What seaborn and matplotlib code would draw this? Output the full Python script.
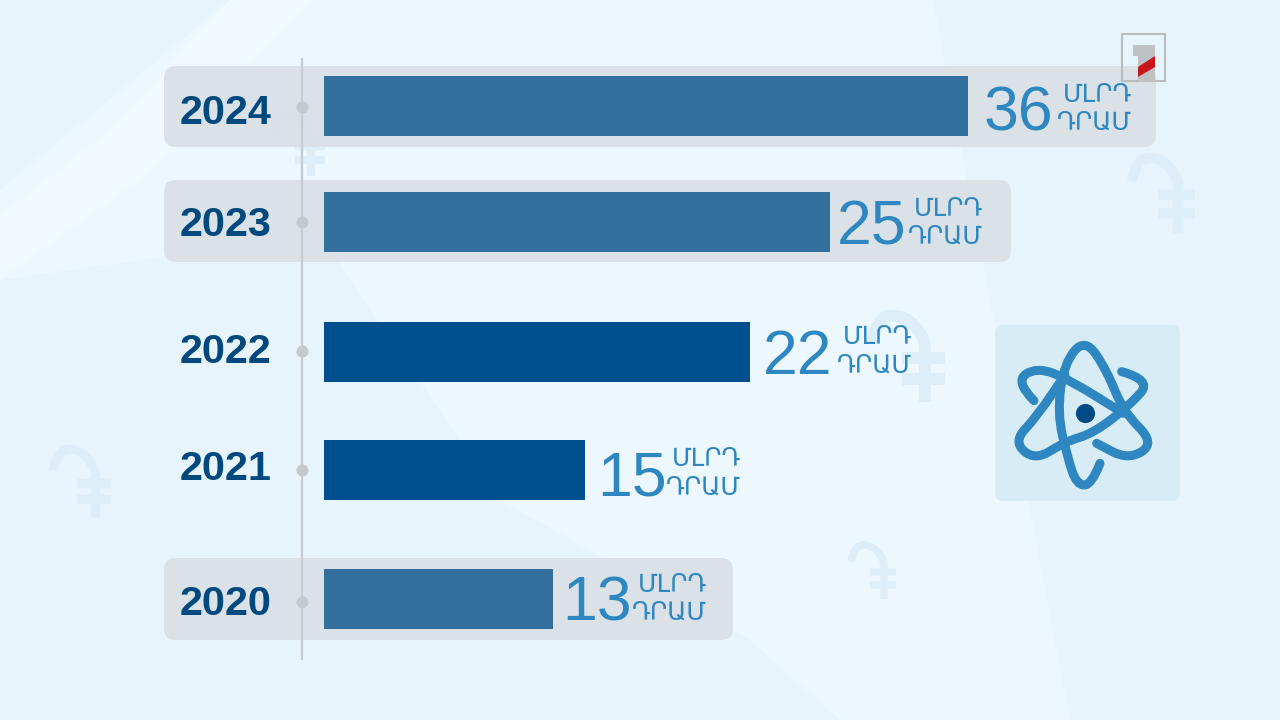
import numpy as np
import pandas as pd
import seaborn as sns
import matplotlib
matplotlib.use('Agg')
import matplotlib.pyplot as plt
from matplotlib.patches import FancyBboxPatch, PathPatch, Polygon, Rectangle
from matplotlib.path import Path

# ── DATA ───────────────────────────────────────────────────────
years = ['2024', '2023', '2022', '2021', '2020']
value_labels = ['36', '25', '22', '15', '13']
# bars in the source are not to scale with their labels, so lengths are read off the picture
bar_lengths = [36.0, 28.3, 23.8, 14.6, 12.8]
highlighted = [True, True, False, False, True]
unit_top = 'ՄԼՐԴ'
unit_bottom = 'ԴՐԱՄ'

# ── LAYOUT (pixels) ────────────────────────────────────────────
row_y = [106, 221.5, 352, 470, 599]
year_y = [113, 225, 352, 469, 604]
dot_y = [107, 222, 351, 470, 602]
value_x = [984, 837, 763, 597, 562]
value_y = [108, 222, 351, 473, 598]
unit_right = [1132, 983, 912, 741, 707]
panels = [(164, 66, 1156, 147), (164, 180, 1011, 262), (164, 558, 733, 640)]
BAR_LEFT = 323.5
PX_PER_UNIT = 644.5 / 36
NAVY = '#00497f'
BLUE = '#2e87c0'


def smooth(points, **kw):
    # quadratic spline through the midpoints of a hand-placed outline
    pts = np.array(points, dtype=float)
    verts, codes = [pts[0]], [Path.MOVETO]
    for a, b in zip(pts[1:-1], pts[2:]):
        verts += [a, (a + b) / 2]
        codes += [Path.CURVE3, Path.CURVE3]
    verts.append(pts[-1])
    codes.append(Path.LINETO)
    return PathPatch(Path(verts, codes), fc='none', **kw)


sns.set_theme(style='white')
plt.rcParams['font.family'] = ['Liberation Sans', 'DejaVu Sans']

fig = plt.figure(figsize=(12.8, 7.2), dpi=100, facecolor='#e8f4fc')

# ── BACKGROUND ─────────────────────────────────────────────────
bg = fig.add_axes([0, 0, 1, 1], facecolor='#e8f4fc')
bg.set_xlim(0, 1280)
bg.set_ylim(720, 0)
bg.axis('off')
for pts, col in [
    ([(0, 280), (320, 235), (500, 500), (750, 640), (840, 720), (1070, 720), (933, 0),
      (230, 0), (0, 190)], '#ecf7fe'),
    ([(0, 280), (0, 215), (110, 130), (230, 0), (310, 0), (140, 180)], '#eff9fe'),
]:
    bg.add_patch(Polygon(pts, closed=True, fc=col, ec='none', zorder=1))

# dram signs, no installed font has U+058F so they are drawn as a shape
for sx, sy, s in [(311, 176, 0.8), (1178, 233, 1.0), (925, 402, 1.15), (95, 517, 0.9), (884, 599, 0.72)]:
    col = '#deeef8'
    lw = 7.5 * s
    hook = [(-46, -52), (-42, -74), (-18, -76), (0, -56), (0, -40)]
    bg.add_patch(smooth([(sx + s * a, sy + s * b) for a, b in hook], ec=col, lw=lw, zorder=2))
    bg.plot([sx, sx], [sy - 44 * s, sy], color=col, lw=lw, zorder=2, solid_capstyle='butt')
    for off in (-38, -20):
        bg.plot([sx - 20 * s, sx + 17 * s], [sy + off * s] * 2, color=col, lw=lw, zorder=2,
                solid_capstyle='butt')

# ── ROW PANELS ─────────────────────────────────────────────────
for x0, y0, x1, y1 in panels:
    bg.add_patch(FancyBboxPatch((x0 + 12, y0 + 12), x1 - x0 - 24, y1 - y0 - 24,
                                boxstyle='round,pad=12,rounding_size=12',
                                fc='#d9e0e6', ec='none', alpha=0.93, zorder=3))

# ── TIMELINE ───────────────────────────────────────────────────
bg.plot([302, 302], [58, 660], color='#c6cbcf', lw=1.6, zorder=4, solid_capstyle='butt')
bg.scatter([302] * len(dot_y), dot_y, s=75, color='#c4c9ce', zorder=5, linewidths=0)

# ── BARS ───────────────────────────────────────────────────────
df = pd.DataFrame({'length': bar_lengths, 'row': row_y,
                   'kind': ['soft' if h else 'strong' for h in highlighted]})
ax = fig.add_axes([0, 0, 1, 1], facecolor='none')
# width is relative to the tightest row spacing on a native scale
sns.barplot(data=df, x='length', y='row', hue='kind', orient='h', native_scale=True,
            palette={'soft': '#336f9c', 'strong': '#004f8f'},
            width=60 / np.diff(row_y).min(), dodge=False, legend=False, saturation=1,
            linewidth=0, ax=ax)
ax.set_xlim(-BAR_LEFT / PX_PER_UNIT, (1280 - BAR_LEFT) / PX_PER_UNIT)
ax.set_ylim(720, 0)
ax.axis('off')

# ── LABELS ─────────────────────────────────────────────────────
for year, label, x, yy, vy, ur in zip(years, value_labels, value_x, year_y, value_y, unit_right):
    ax.text(180, yy, year, fontsize=29.8, fontweight='bold', color=NAVY,
            ha='left', va='center', transform=bg.transData, zorder=10)
    ax.text(x, vy + 6, label, fontsize=45, color=BLUE, ha='left', va='center',
            transform=bg.transData, zorder=10)
    ax.text(ur, vy - 13.5, unit_top, fontsize=18, color=BLUE, ha='right', va='center',
            family='DejaVu Sans', transform=bg.transData, zorder=10)
    ax.text(ur, vy + 14.5, unit_bottom, fontsize=18, color=BLUE, ha='right', va='center',
            family='DejaVu Sans', transform=bg.transData, zorder=10)

# ── ATOM ICON ──────────────────────────────────────────────────
bg.add_patch(FancyBboxPatch((1003, 333), 169, 160, boxstyle='round,pad=8,rounding_size=8',
                            fc='#d8ecf6', ec='none', zorder=3))
atom_curves = [
    [(360, 460), (335, 525), (290, 525), (262, 440), (232, 310), (252, 160), (315, 85),
     (380, 180), (430, 305), (525, 400), (445, 450), (350, 400)],
    [(162, 272), (105, 215), (170, 170), (270, 210), (430, 310)],
    [(425, 185), (515, 210), (450, 285), (340, 370), (255, 395), (165, 452), (100, 395),
     (170, 320), (255, 195)],
]
for curve in atom_curves:
    bg.add_patch(smooth([(980 + a / 3, 310 + b / 3) for a, b in curve], ec=BLUE, lw=6.5,
                        capstyle='round', zorder=6))
bg.scatter([1085], [413], s=190, color='#004a85', zorder=7, linewidths=0)

# ── CHANNEL LOGO ───────────────────────────────────────────────
bg.add_patch(Rectangle((1122, 34), 43, 47, fc='none', ec='#b9bcbe', lw=1.5, zorder=8))
bg.add_patch(Polygon([(1133, 45), (1155, 45), (1155, 82), (1138, 82), (1138, 56), (1133, 56)],
                     closed=True, fc='#bfc2c4', ec='none', zorder=9))
bg.add_patch(Polygon([(1138, 67), (1155, 56), (1155, 67), (1138, 77)], closed=True,
                     fc='#c8161c', ec='none', zorder=9))

fig.savefig('out.png', dpi=100, facecolor=fig.get_facecolor())
